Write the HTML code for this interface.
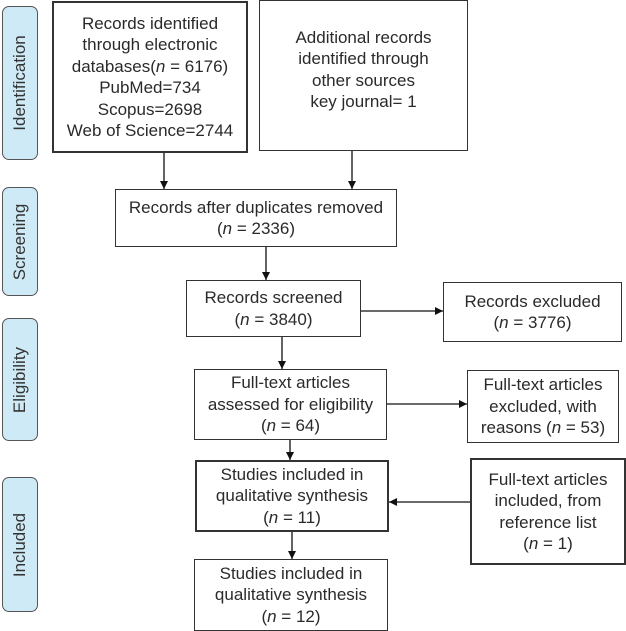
<!DOCTYPE html>
<html><head><style>
body{margin:0;width:626px;height:631px;background:#fff;position:relative;font-family:"Liberation Sans",sans-serif;color:#2a2a2a;overflow:hidden}
.b{position:absolute;border:1.3px solid #333;box-sizing:border-box;display:flex;align-items:center;justify-content:center;text-align:center;font-size:17px;line-height:21.5px;background:#fff}
.b>div{white-space:nowrap}
.t{position:absolute;left:2px;width:36px;background:#cfeaf7;border:1.3px solid #555;border-radius:7px;box-sizing:border-box}
.t span{position:absolute;left:50%;top:50%;transform:translate(-50%,-50%) rotate(-90deg);font-size:17px;white-space:nowrap;color:#333}
svg{position:absolute;left:0;top:0}
</style></head><body>
<div class="t" style="top:6px;height:154px"><span>Identification</span></div>
<div class="t" style="top:187px;height:109px"><span>Screening</span></div>
<div class="t" style="top:318px;height:123px"><span>Eligibility</span></div>
<div class="t" style="top:477px;height:135px"><span>Included</span></div>

<div class="b" style="left:52px;top:1px;width:196px;height:152px;border-width:2px"><div>Records identified<br>through electronic<br>databases(<i>n</i> = 6176)<br>PubMed=734<br>Scopus=2698<br>Web of Science=2744</div></div>
<div class="b" style="left:259px;top:0;width:209px;height:151px;padding-bottom:12px"><div>Additional records<br>identified through<br>other sources<br>key journal= 1</div></div>
<div class="b" style="left:115px;top:189px;width:282px;height:58px"><div>Records after duplicates removed<br>(<i>n</i> = 2336)</div></div>
<div class="b" style="left:186px;top:280px;width:175px;height:57px"><div>Records screened<br>(<i>n</i> = 3840)</div></div>
<div class="b" style="left:443px;top:282px;width:179px;height:60px"><div>Records excluded<br>(<i>n</i> = 3776)</div></div>
<div class="b" style="left:194px;top:369px;width:193px;height:71px"><div>Full-text articles<br>assessed for eligibility<br>(<i>n</i> = 64)</div></div>
<div class="b" style="left:467px;top:370px;width:152px;height:73px"><div>Full-text articles<br>excluded, with<br>reasons (<i>n</i> = 53)</div></div>
<div class="b" style="left:195px;top:460px;width:194px;height:72px;border-width:2px"><div>Studies included in<br>qualitative synthesis<br>(<i>n</i> = 11)</div></div>
<div class="b" style="left:470px;top:458px;width:156px;height:107px;border-width:2px"><div>Full-text articles<br>included, from<br>reference list<br>(<i>n</i> = 1)</div></div>
<div class="b" style="left:194px;top:559px;width:194px;height:72px"><div>Studies included in<br>qualitative synthesis<br>(<i>n</i> = 12)</div></div>

<svg width="626" height="631">
<defs><marker id="a" markerWidth="8" markerHeight="8" refX="8" refY="4" orient="auto" markerUnits="userSpaceOnUse"><path d="M0,0L8,4L0,8z" fill="#111"/></marker></defs>
<g stroke="#111" stroke-width="1.3" marker-end="url(#a)">
<line x1="164" y1="153" x2="164" y2="189"/>
<line x1="352" y1="151" x2="352" y2="189"/>
<line x1="266" y1="247" x2="266" y2="280"/>
<line x1="361" y1="311" x2="443" y2="311"/>
<line x1="282" y1="337" x2="282" y2="369"/>
<line x1="387" y1="404" x2="467" y2="404"/>
<line x1="290" y1="440" x2="290" y2="460"/>
<line x1="470" y1="502" x2="389" y2="502"/>
<line x1="292" y1="532" x2="292" y2="559"/>
</g></svg>
</body></html>
